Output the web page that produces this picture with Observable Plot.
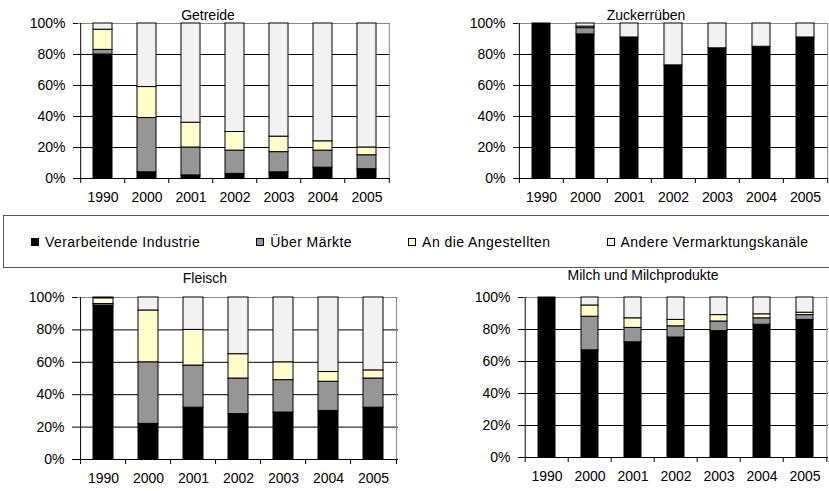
<!DOCTYPE html>
<html><head><meta charset="utf-8">
<script src="https://cdn.jsdelivr.net/npm/d3@7"></script>
<script src="https://cdn.jsdelivr.net/npm/@observablehq/plot@0.6"></script>
<style>
body{margin:0;background:#fff;font-family:"Liberation Sans",Arial,sans-serif;color:#000;}
#root{position:relative;width:829px;height:491px;overflow:hidden;background:#fff;}
.panel{position:absolute;}
.title{position:absolute;width:300px;text-align:center;font-size:14px;line-height:16px;white-space:nowrap;}
#legend{position:absolute;left:3px;top:215px;width:840px;height:51px;border:1px solid #555;display:flex;align-items:center;padding-left:27px;box-sizing:content-box;gap:56px;font-size:14px;letter-spacing:0.45px;}
.item{display:flex;align-items:center;white-space:nowrap;}
.sw{width:6px;height:6px;border:1px solid #000;margin-right:6px;}
</style></head><body><div id="root"></div>
<script>
const years = ["1990","2000","2001","2002","2003","2004","2005"];
const series = ["Verarbeitende Industrie","Über Märkte","An die Angestellten","Andere Vermarktungskanäle"];
const colors = ["#000000","#969696","#ffffcc","#f2f2f2"];
const titles = ["Getreide","Zuckerrüben","Fleisch","Milch und Milchprodukte"];
const yTicks = [0,20,40,60,80,100];

// Getreide (percent shares)
const getreideIndustrie   = [80, 4, 2, 3, 4, 7, 6];
const getreideMaerkte     = [ 3,35,18,15,13,11, 9];
const getreideAngestellte = [13,20,16,12,10, 6, 5];
const getreideAndere      = [ 4,41,64,70,73,76,80];
// Zuckerrüben
const zuckerIndustrie   = [100,93,91,73,84,85,91];
const zuckerMaerkte     = [  0, 4, 0, 0, 0, 0, 0];
const zuckerAngestellte = [  0, 1, 0, 0, 0, 0, 0];
const zuckerAndere      = [  0, 2, 9,27,16,15, 9];
// Fleisch
const fleischIndustrie   = [95,  22,32,28,29,30,32];
const fleischMaerkte     = [ 1,  38,26,22,20,18,18];
const fleischAngestellte = [ 3.5,32,22,15,11, 6, 5];
const fleischAndere      = [ 0.5, 8,20,35,40,46,45];
// Milch und Milchprodukte
const milchIndustrie   = [100,67,72,75,79,83,86];
const milchMaerkte     = [  0,21, 9, 7, 6, 4, 3];
const milchAngestellte = [  0, 7, 6, 4, 4, 2.5,1.5];
const milchAndere      = [  0, 5,13,14,11,10.5,9.5];

const root = document.getElementById("root");

function panel(vals, o) {
  const data = [];
  years.forEach((yr, i) => series.forEach((s, j) => {
    if (vals[j][i] > 0) data.push({year: yr, series: s, value: vals[j][i]});
  }));
  const step = (o.width - o.ml - o.mr) / years.length;
  const last = years[years.length - 1];
  const svg = Plot.plot({
    width: o.width, height: o.height,
    marginLeft: o.ml, marginRight: o.mr, marginTop: o.mt, marginBottom: o.mb,
    style: {fontFamily: "Liberation Sans, Arial, sans-serif", fontSize: "14px", color: "#000", background: "transparent", overflow: "visible"},
    x: {domain: years, paddingInner: o.pad, paddingOuter: o.pad / 2},
    y: {domain: [0, 100]},
    color: {domain: series, range: colors},
    marks: [
      Plot.ruleY([20, 40, 60, 80], {stroke: "#000"}),
      Plot.ruleY([100], {stroke: "#888"}),
      Plot.ruleX([last], {y1: 0, y2: 100, dx: step / 2, stroke: "#888"}),
      Plot.barY(data, {x: "year", y: "value", fill: "series", stroke: "#000", strokeWidth: 1}),
      Plot.ruleY([0], {stroke: "#000"}),
      Plot.ruleX([years[0]], {y1: 0, y2: 100, dx: -step / 2, stroke: "#000"}),
      Plot.axisY(yTicks, {tickSize: 5, tickPadding: 8, tickFormat: d => d + "%", label: null, letterSpacing: 0.4}),
      Plot.axisX({tickSize: 5, fill: "none", label: null, dx: -step / 2}),
      Plot.axisX([last], {tickSize: 5, fill: "none", label: null, dx: step / 2}),
      Plot.axisX({tickSize: 0, tickPadding: 14, label: null, letterSpacing: 0.4})
    ]
  });
  svg.classList.add("panel");
  svg.style.left = o.left + "px";
  svg.style.top = o.top + "px";
  root.appendChild(svg);
}

panel([getreideIndustrie, getreideMaerkte, getreideAngestellte, getreideAndere],
  {left: 0, top: 0, width: 410, height: 210, ml: 78, mr: 20, mt: 23, mb: 32, pad: 0.57});
panel([zuckerIndustrie, zuckerMaerkte, zuckerAngestellte, zuckerAndere],
  {left: 410, top: 0, width: 419, height: 210, ml: 108, mr: 1, mt: 23, mb: 32, pad: 0.6});
panel([fleischIndustrie, fleischMaerkte, fleischAngestellte, fleischAndere],
  {left: 0, top: 275, width: 410, height: 216, ml: 77, mr: 12, mt: 22, mb: 32, pad: 0.565});
panel([milchIndustrie, milchMaerkte, milchAngestellte, milchAndere],
  {left: 410, top: 275, width: 419, height: 216, ml: 113, mr: 1, mt: 22, mb: 34, pad: 0.6});

const titlePos = [[208, 14.5], [646, 15], [205, 278], [643, 275]];
titles.forEach((t, i) => {
  const d = document.createElement("div");
  d.className = "title";
  d.textContent = t;
  d.style.left = (titlePos[i][0] - 150) + "px";
  d.style.top = (titlePos[i][1] - 8) + "px";
  root.appendChild(d);
});

const legend = document.createElement("div");
legend.id = "legend";
series.forEach((s, i) => {
  const it = document.createElement("div");
  it.className = "item";
  const sw = document.createElement("span");
  sw.className = "sw";
  sw.style.background = colors[i];
  const tx = document.createElement("span");
  tx.textContent = s;
  it.appendChild(sw); it.appendChild(tx);
  legend.appendChild(it);
});
root.appendChild(legend);
</script>
</body></html>
